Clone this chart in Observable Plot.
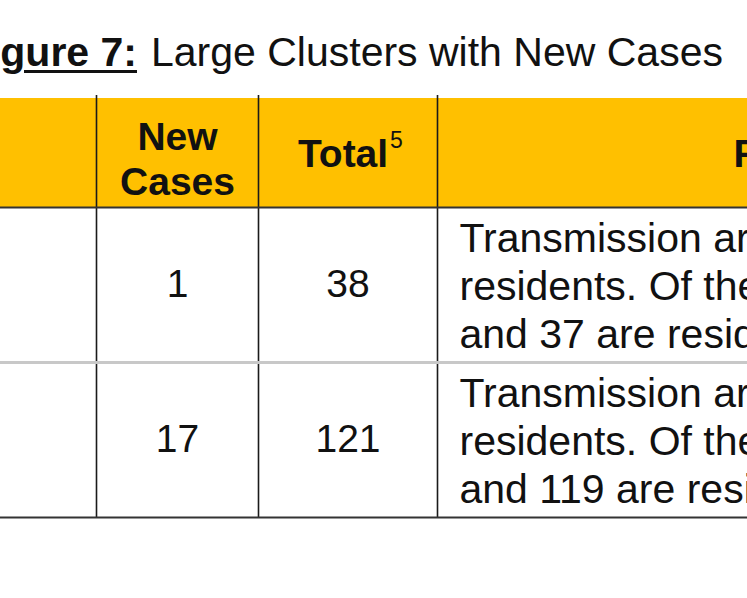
<!DOCTYPE html>
<html><head><meta charset="utf-8">
<script src="https://cdn.jsdelivr.net/npm/d3@7"></script>
<script src="https://cdn.jsdelivr.net/npm/@observablehq/plot@0.6"></script>
<style>
html,body{margin:0;padding:0;background:#fff;overflow:hidden;width:747px;height:598px;}
#title{position:relative;width:747px;height:90px;font-family:"Liberation Sans",Arial,sans-serif;font-size:41px;color:#111;white-space:nowrap;overflow:hidden;}
#title .fig{position:absolute;right:610px;top:32px;line-height:41px;font-weight:bold;text-decoration:underline;text-decoration-thickness:3px;text-underline-offset:4px;}
#title .rest{position:absolute;left:151px;top:32px;line-height:41px;}
#chart svg{display:block;}
</style></head>
<body>
<div id="title"></div>
<div id="chart"></div>
<script>
// ---- data ----
const titleLabel = "Figure 7:";
const titleText = "Large Clusters with New Cases";
const headers = ["Cluster", "New\nCases", "Total", "Facility Details"];
const footnoteMark = "5";
const newCases = [1, 17];
const totals = [38, 121];
const details = [
  "Transmission arising among staff and\nresidents. Of these cases, 1 is staff\nand 37 are residents.",
  "Transmission arising among staff and\nresidents. Of these cases, 2 are staff\nand 119 are residents."
];

// ---- layout (page pixel grid) ----
const colEdges = [-160, 96, 258, 437, 1100];
const rowEdges = [98, 207, 362, 517];
const font = "Liberation Sans, Arial, sans-serif";

document.getElementById("title").innerHTML =
  `<span class="fig">${titleLabel}</span><span class="rest">${titleText}</span>`;

const colMid = i => (colEdges[i] + colEdges[i + 1]) / 2;
const rowMid = i => (rowEdges[i] + rowEdges[i + 1]) / 2;

const headerCells = headers.map((h, i) => ({
  text: h, x: i === 3 ? colEdges[3] + 296 : colMid(i), y: rowMid(0),
  anchor: i === 3 ? "start" : "middle", dy: i === 1 ? 5 : 0, dx: i === 2 ? -5 : 0
})).filter(d => d.text !== "Cluster");

const bodyNumbers = [];
newCases.forEach((v, r) => bodyNumbers.push({text: String(v), x: colMid(1), y: rowMid(r + 1)}));
totals.forEach((v, r) => bodyNumbers.push({text: String(v), x: colMid(2), y: rowMid(r + 1)}));
const bodyDetails = details.map((t, r) => ({text: t, x: colEdges[3], y: rowMid(r + 1)}));

const chart = Plot.plot({
  width: 747, height: 508, margin: 0,
  x: {type: "linear", domain: [0, 747], range: [0, 747], axis: null},
  y: {type: "linear", domain: [90, 598], range: [0, 508], axis: null},
  style: {background: "transparent", overflow: "hidden"},
  marks: [
    Plot.rect([{x1: colEdges[0], x2: colEdges[4], y1: rowEdges[0], y2: rowEdges[1]}],
      {x1: "x1", x2: "x2", y1: "y1", y2: "y2", fill: "#FFC000"}),
    Plot.ruleX(colEdges.slice(1, 4), {y1: rowEdges[0] - 3, y2: rowEdges[3], stroke: "#1a1a1a", strokeWidth: 1.6}),
    Plot.ruleY([rowEdges[1]], {stroke: "#333", strokeWidth: 2}),
    Plot.ruleY([rowEdges[2]], {stroke: "#c8c8c8", strokeWidth: 3}),
    Plot.ruleY([rowEdges[3]], {stroke: "#333", strokeWidth: 2}),
    Plot.text(headerCells, {x: "x", y: "y", text: "text", textAnchor: d => d.anchor,
      fontSize: 39, fontWeight: "bold", fontFamily: font, fill: "#111",
      lineHeight: 45 / 39, lineAnchor: "middle",
      render: (index, scales, values, dims, ctx, next) => {
        const g = next(index, scales, values, dims, ctx);
        d3.select(g).selectAll("text").each(function(_, k) {
          const d = headerCells[index[k]];
          d3.select(this).attr("transform", `translate(${values.x[index[k]] + d.dx},${values.y[index[k]] + d.dy})`)
            .attr("text-anchor", d.anchor === "start" ? "start" : "middle");
        });
        return g;
      }}),
    Plot.text([headerCells.find(d => d.text === "Total")], {x: "x", y: "y", text: () => footnoteMark,
      textAnchor: "start", dx: 42, dy: -12, fontSize: 23, fontFamily: font, fill: "#111", lineAnchor: "middle"}),
    Plot.text(bodyNumbers, {x: "x", y: "y", text: "text", fontSize: 39, fontFamily: font, fill: "#111",
      lineAnchor: "middle"}),
    Plot.text(bodyDetails, {x: "x", y: "y", text: "text", textAnchor: "start", dx: 22,
      fontSize: 41, fontFamily: font, fill: "#111", lineHeight: 48 / 41, lineAnchor: "middle"})
  ]
});
document.getElementById("chart").appendChild(chart);
</script>
</body></html>
